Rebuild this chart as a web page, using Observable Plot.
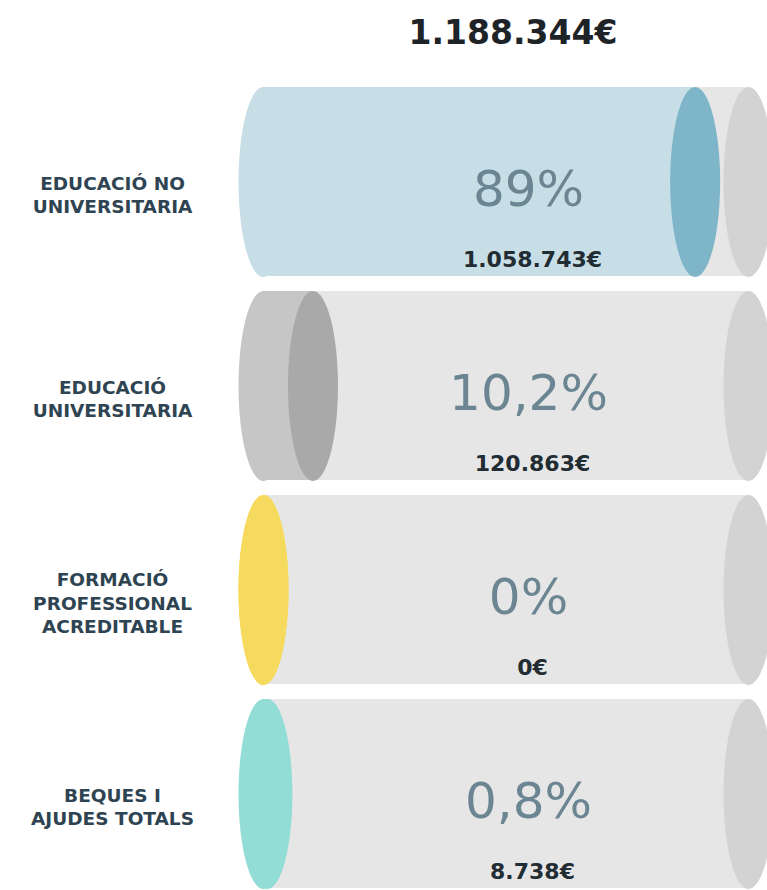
<!DOCTYPE html>
<html>
<head>
<meta charset="utf-8">
<script src="https://cdn.jsdelivr.net/npm/d3@7"></script>
<script src="https://cdn.jsdelivr.net/npm/@observablehq/plot@0.6"></script>
<style>
  html, body { margin: 0; padding: 0; background: #fff; }
  #wrap { position: relative; width: 767px; height: 890px; overflow: hidden; }
  #title { position: absolute; top: 16px; left: 513px; transform: translateX(-50%);
           font: bold 33px "DejaVu Sans", sans-serif; line-height: 33px; color: #1e2327; white-space: nowrap; }
  svg { display: block; }
</style>
</head>
<body>
<div id="wrap"><div id="title"></div></div>
<script>
// ---- data ----
const categories = ["EDUCACIÓ NO\nUNIVERSITARIA", "EDUCACIÓ\nUNIVERSITARIA", "FORMACIÓ\nPROFESSIONAL\nACREDITABLE", "BEQUES I\nAJUDES TOTALS"];
const percents = [89, 10.2, 0, 0.8];
const amounts = [1058743, 120863, 0, 8738];
const total = 1188344;
const scaleMax = 100;

// ---- palette (styles) ----
const bodyColors = ["#c7dee6", "#c6c6c6", "#f6da5e", "#94ddd7"];
const capColors = ["#7fb5c9", "#a9a9a9", "#f6da5e", "#92ddd6"];
const trackColor = "#e6e6e6";
const trackCapColor = "#d3d3d3";

const locale = d3.formatLocale({decimal: ",", thousands: ".", grouping: [3], currency: ["", "€"]});
const fmtAmount = v => locale.format(",")(v) + "€";
const fmtPct = v => locale.format(".1~f")(v) + "%";

const data = categories.map((c, i) => ({
  cat: c, pct: percents[i], amount: amounts[i], body: bodyColors[i], cap: capColors[i]
}));

document.getElementById("title").textContent = fmtAmount(total);

// ellipse symbol (fixed radii in pixels)
const RX = 25, RY = 95;
const ellipse = {
  draw(ctx) {
    const k = 0.5522847498;
    ctx.moveTo(RX, 0);
    ctx.bezierCurveTo(RX, RY * k, RX * k, RY, 0, RY);
    ctx.bezierCurveTo(-RX * k, RY, -RX, RY * k, -RX, 0);
    ctx.bezierCurveTo(-RX, -RY * k, -RX * k, -RY, 0, -RY);
    ctx.bezierCurveTo(RX * k, -RY, RX, -RY * k, RX, 0);
    ctx.closePath();
  }
};

const chart = Plot.plot({
  width: 767,
  height: 890,
  margin: 0,
  x: {domain: [0, scaleMax], range: [263, 748], axis: null},
  y: {type: "band", domain: categories, range: [86, 890], paddingInner: 0.072, paddingOuter: 0, axis: null},
  color: {type: "identity"},
  marks: [
    // track
    Plot.barX(data, {x1: 0, x2: scaleMax, y: "cat", fill: trackColor}),
    Plot.dot(data, {x: scaleMax, y: "cat", symbol: ellipse, fill: trackCapColor, stroke: "none"}),
    // filled portion
    Plot.dot(data, {x: 0, y: "cat", symbol: ellipse, fill: "body", stroke: "none"}),
    Plot.barX(data, {x1: 0, x2: "pct", y: "cat", fill: "body"}),
    Plot.dot(data, {x: "pct", y: "cat", symbol: ellipse, fill: "cap", stroke: "none"}),
    // category labels
    Plot.text(data, {
      y: "cat", text: "cat", frameAnchor: "left", dx: 112, dy: 12,
      textAnchor: "middle", lineAnchor: "middle", lineHeight: 1.28,
      fontFamily: "DejaVu Sans", fontWeight: "bold", fontSize: 18.5, fill: "#2f4452"
    }),
    // percentages
    Plot.text(data, {
      y: "cat", text: d => fmtPct(d.pct), frameAnchor: "left", dx: 528, dy: 8,
      textAnchor: "middle", lineAnchor: "middle",
      fontFamily: "DejaVu Sans", fontWeight: "normal", fontSize: 50, fill: "#6b8692"
    }),
    // amounts
    Plot.text(data, {
      y: "cat", text: d => fmtAmount(d.amount), frameAnchor: "left", dx: 532, dy: 78,
      textAnchor: "middle", lineAnchor: "middle",
      fontFamily: "DejaVu Sans", fontWeight: "bold", fontSize: 22, fill: "#222c33"
    })
  ]
});
document.getElementById("wrap").appendChild(chart);
</script>
</body>
</html>
